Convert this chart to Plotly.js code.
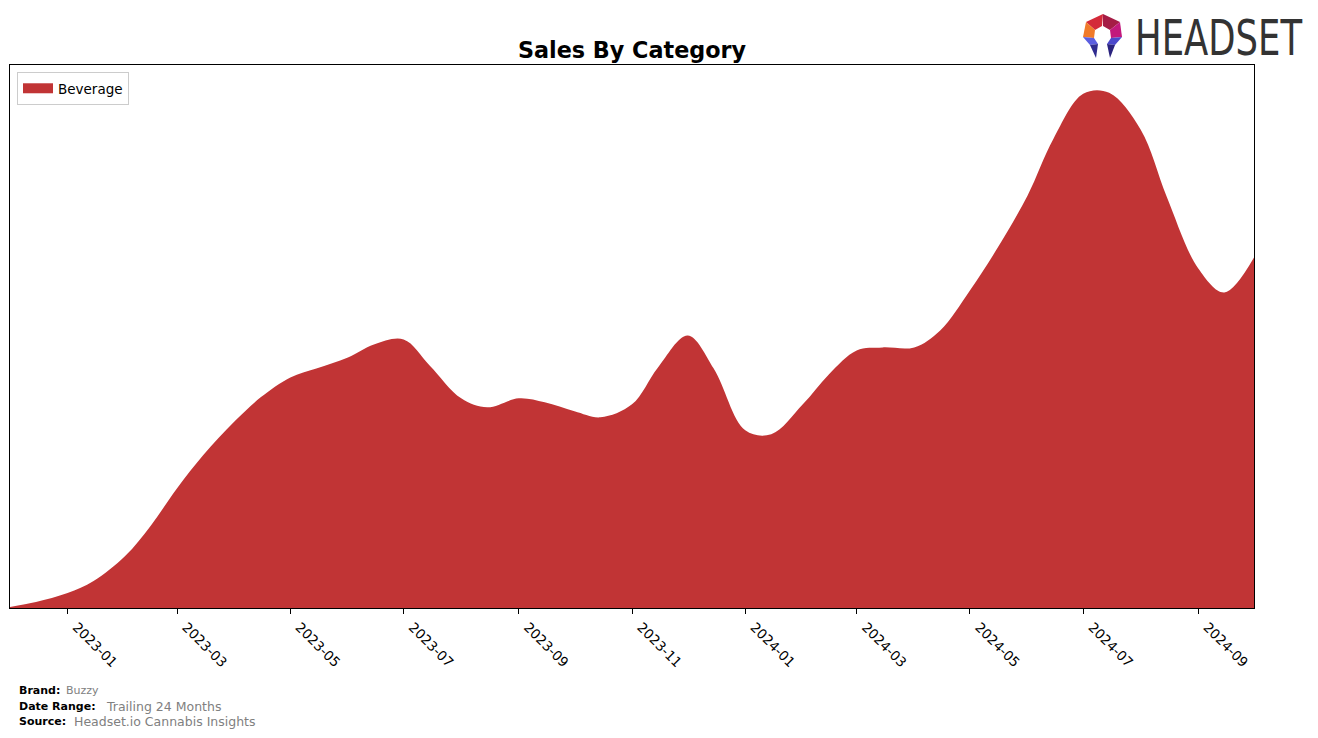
<!DOCTYPE html>
<html>
<head>
<meta charset="utf-8">
<script src="https://cdn.plot.ly/plotly-3.0.1.min.js"></script>
<style>html,body{margin:0;padding:0;background:#fff;}#chart{width:1318px;height:738px;}</style>
</head>
<body>
<div id="chart"></div>
<script>
// Data (semi-monthly readings of the Beverage area)
const dates = [
 '2022-12-01','2022-12-15','2023-01-01','2023-01-15','2023-02-01','2023-02-15',
 '2023-03-01','2023-03-15','2023-04-01','2023-04-15','2023-05-01','2023-05-15',
 '2023-06-01','2023-06-15','2023-07-01','2023-07-15','2023-08-01','2023-08-15',
 '2023-09-01','2023-09-15','2023-10-01','2023-10-15','2023-11-01','2023-11-15',
 '2023-12-01','2023-12-15','2024-01-01','2024-01-15','2024-02-01','2024-02-15',
 '2024-03-01','2024-03-15','2024-04-01','2024-04-15','2024-05-01','2024-05-15',
 '2024-06-01','2024-06-15','2024-07-01','2024-07-15','2024-08-01','2024-08-15',
 '2024-09-01','2024-09-15','2024-10-01'
];
const beverage = [
 1, 6, 15, 27, 52, 83,
 120, 153, 187, 211, 231, 240,
 251, 264, 269, 243, 210, 201,
 210, 206, 197, 191, 204, 241,
 273, 240, 178, 174, 204, 234,
 258, 261, 261, 278, 318, 358,
 413, 470, 515, 516, 479, 412,
 340, 316, 351
];
const categoryName = 'Beverage';
const tickDates = ['2023-01-01','2023-03-01','2023-05-01','2023-07-01','2023-09-01','2023-11-01',
                   '2024-01-01','2024-03-01','2024-05-01','2024-07-01','2024-09-01'];
const tickLabels = ['2023-01','2023-03','2023-05','2023-07','2023-09','2023-11',
                    '2024-01','2024-03','2024-05','2024-07','2024-09'];
const yMax = 518 * 1.05;

const W = 1318, H = 738;
const ml = 10, mr = 64, mt = 65, mb = 130;
const pw = W - ml - mr, ph = H - mt - mb;
const px = x => (x - ml) / pw;
const py = y => (H - mb - y) / ph;
const fillColor = '#c13435';

const logoSvg = `<svg xmlns="http://www.w3.org/2000/svg" width="48" height="48" viewBox="0 0 44 48">
<polygon points="22,1 5,9 14,17 21,13" fill="#d42a3a"/>
<polygon points="22,1 39,9 29,17 22,13" fill="#a51c45"/>
<polygon points="5,9 2,24 13,25 14,17" fill="#f07a2a"/>
<polygon points="39,9 41,24 30,25 29,17" fill="#c2197c"/>
<polygon points="2,24 13,25 17,31 9,32" fill="#5b5ee0"/>
<polygon points="9,32 17,31 15,45" fill="#2f2b8f"/>
<polygon points="41,24 30,25 26,31 34,32" fill="#4b48cc"/>
<polygon points="34,32 26,31 29,45" fill="#2a237e"/>
</svg>`;
const logoSrc = 'data:image/svg+xml;charset=utf-8,' + encodeURIComponent(logoSvg);

const areaTrace = {
  type: 'scatter',
  x: dates,
  y: beverage,
  name: categoryName,
  mode: 'lines',
  line: {shape: 'spline', smoothing: 1, width: 0, color: fillColor},
  fill: 'tozeroy',
  fillcolor: fillColor,
  showlegend: false
};
const legendTrace = {
  type: 'scatter',
  x: [dates[0]],
  y: [null],
  name: categoryName,
  mode: 'lines',
  line: {width: 10, color: fillColor},
  showlegend: true
};

const bold = 'DejaVu Sans';
const layout = {
  width: W, height: H,
  margin: {l: ml, r: mr, t: mt, b: mb},
  paper_bgcolor: '#ffffff',
  plot_bgcolor: '#ffffff',
  font: {family: 'DejaVu Sans', color: '#000'},
  title: {
    text: '<b>Sales By Category</b>',
    font: {family: 'DejaVu Sans', size: 22.3, color: '#000'},
    x: 0.5, xref: 'paper', xanchor: 'center',
    y: 1 - 50 / H, yref: 'container', yanchor: 'middle'
  },
  showlegend: true,
  legend: {
    x: px(17), y: py(72), xanchor: 'left', yanchor: 'top',
    bordercolor: '#cccccc', borderwidth: 1, bgcolor: 'rgba(255,255,255,0.8)',
    font: {family: 'DejaVu Sans', size: 13.5, color: '#000'}
  },
  xaxis: {
    type: 'date',
    range: ['2022-12-01', '2024-10-01'],
    tickmode: 'array',
    tickvals: tickDates,
    ticktext: tickLabels,
    tickangle: 45,
    ticklabelshift: 9,
    ticks: 'outside', ticklen: 5, tickwidth: 1, tickcolor: '#000',
    tickfont: {family: 'DejaVu Sans', size: 13.5, color: '#000'},
    showline: true, linecolor: '#000', linewidth: 1, mirror: true,
    showgrid: false, zeroline: false
  },
  yaxis: {
    range: [0, yMax],
    showticklabels: false, ticks: '',
    showline: true, linecolor: '#000', linewidth: 1, mirror: true,
    showgrid: false, zeroline: false
  },
  images: [{
    source: logoSrc, xref: 'paper', yref: 'paper',
    x: px(1079), y: py(13), sizex: 48 / pw, sizey: 48 / ph,
    xanchor: 'left', yanchor: 'top', sizing: 'stretch', layer: 'above'
  }],
  annotations: [
    {text: 'HEADSET', xref: 'paper', yref: 'paper', x: px(1133), y: py(38),
     xanchor: 'left', yanchor: 'middle', showarrow: false,
     font: {family: 'Liberation Sans Narrow, DejaVu Sans Condensed, Roboto Condensed, Roboto', size: 49, color: '#333333'}},
    {text: '<b>Brand:</b>', xref: 'paper', yref: 'paper', x: px(17), y: py(690),
     xanchor: 'left', yanchor: 'middle', showarrow: false, font: {family: bold, size: 11, color: '#000'}},
    {text: 'Buzzy', xref: 'paper', yref: 'paper', x: px(64), y: py(690),
     xanchor: 'left', yanchor: 'middle', showarrow: false, font: {family: 'DejaVu Sans', size: 11, color: '#808080'}},
    {text: '<b>Date Range:</b>', xref: 'paper', yref: 'paper', x: px(17), y: py(706),
     xanchor: 'left', yanchor: 'middle', showarrow: false, font: {family: bold, size: 11, color: '#000'}},
    {text: 'Trailing 24 Months', xref: 'paper', yref: 'paper', x: px(104), y: py(706),
     xanchor: 'left', yanchor: 'middle', showarrow: false, font: {family: 'DejaVu Sans', size: 12.5, color: '#808080'}},
    {text: '<b>Source:</b>', xref: 'paper', yref: 'paper', x: px(17), y: py(721),
     xanchor: 'left', yanchor: 'middle', showarrow: false, font: {family: bold, size: 11, color: '#000'}},
    {text: 'Headset.io Cannabis Insights', xref: 'paper', yref: 'paper', x: px(72), y: py(721),
     xanchor: 'left', yanchor: 'middle', showarrow: false, font: {family: 'DejaVu Sans', size: 12.5, color: '#808080'}}
  ]
};

Plotly.newPlot('chart', [areaTrace, legendTrace], layout, {displayModeBar: false, responsive: false, staticPlot: true})
.then(gd => {
  // Condense the HEADSET wordmark horizontally to fit the logo width (~168px)
  const txt = gd.querySelector('.annotation text');
  if (txt) {
    const bb = txt.getBBox();
    const target = 168;
    const s = Math.min(1, target / bb.width);
    txt.style.transformBox = 'fill-box';
    txt.style.transformOrigin = 'left center';
    txt.style.transform = 'scaleX(' + s + ')';
  }
});
</script>
</body>
</html>
